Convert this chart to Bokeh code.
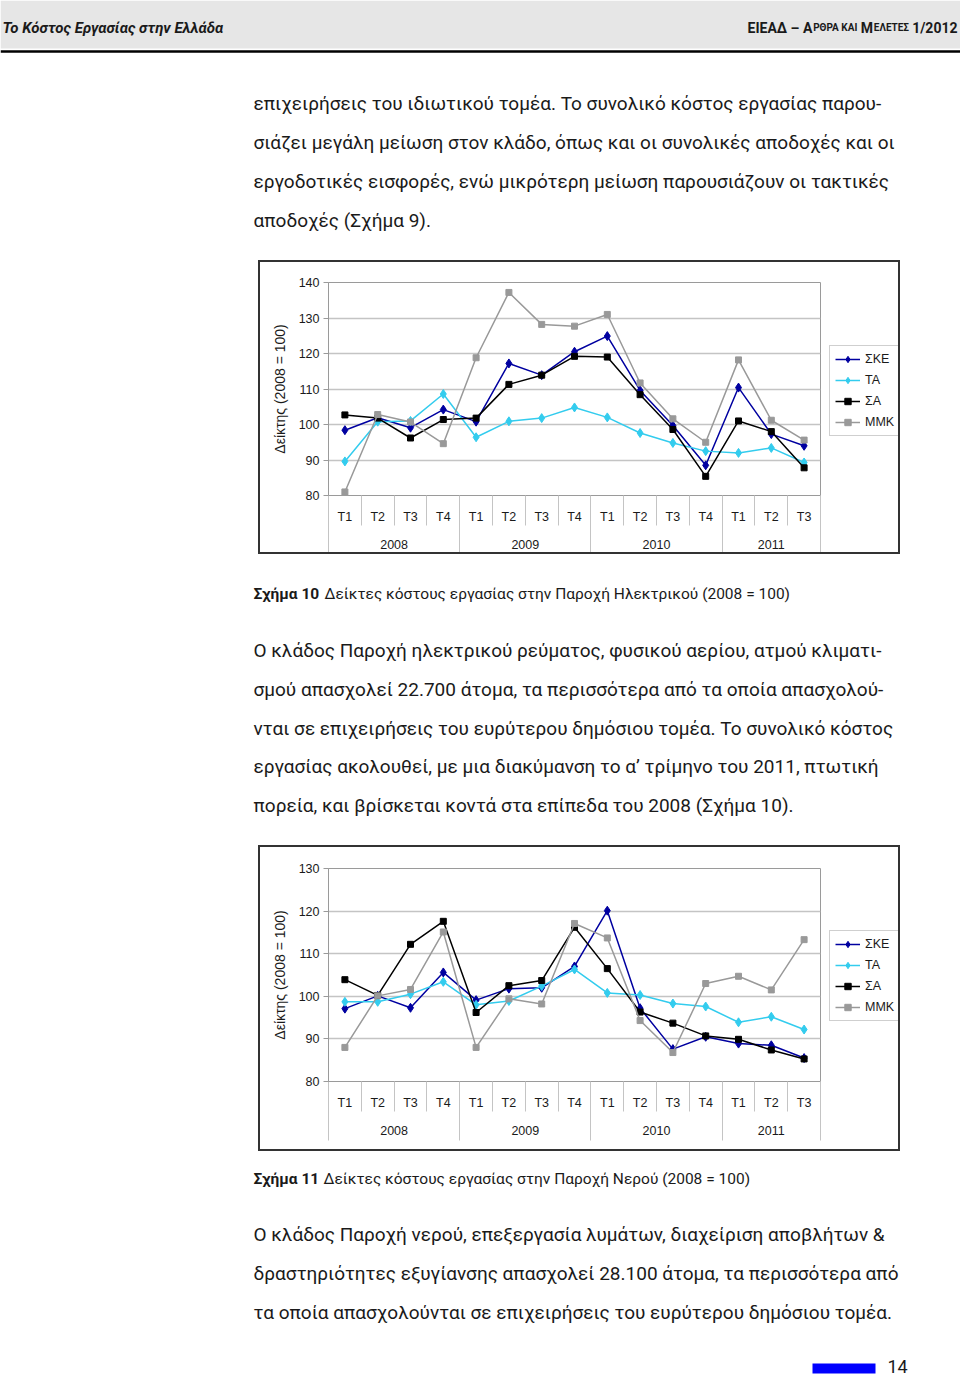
from bokeh.plotting import figure
from bokeh.models import Range1d, FixedTicker, LinearAxis, Legend, LegendItem, Spacer, ColumnDataSource
from bokeh.layouts import column, row
from bokeh.embed import file_html
from bokeh.resources import INLINE
from bokeh.core.properties import value

# ---------------- data ----------------
quarters = ["T1", "T2", "T3", "T4", "T1", "T2", "T3", "T4", "T1", "T2", "T3", "T4", "T1", "T2", "T3"]
years = ["2008", "2009", "2010", "2011"]
year_sizes = [4, 4, 4, 3]
series_names = ["ΣΚΕ", "ΤΑ", "ΣΑ", "ΜΜΚ"]

# Figure 10: electricity supply
elec_ske = [98.4, 101.9, 99.1, 104.2, 100.8, 117.2, 113.9, 120.5, 124.9, 109.6, 99.7, 88.5, 110.4, 97.3, 94.0]
elec_ta = [89.6, 100.8, 101.0, 108.6, 96.4, 100.9, 101.8, 104.8, 102.0, 97.6, 94.8, 92.5, 92.0, 93.4, 89.3]
elec_sa = [102.7, 101.8, 96.2, 101.4, 101.8, 111.3, 113.9, 119.2, 119.0, 108.4, 98.6, 85.4, 101.0, 98.0, 87.8]
elec_mmk = [81.0, 102.8, 100.7, 94.6, 118.8, 137.2, 128.2, 127.7, 131.0, 111.7, 101.6, 95.0, 118.2, 101.2, 95.6]

# Figure 11: water supply
water_ske = [97.1, 100.1, 97.3, 105.6, 99.1, 101.8, 102.0, 107.0, 120.1, 97.2, 87.6, 90.5, 88.9, 88.5, 85.5]
water_ta = [98.7, 98.7, 100.5, 103.4, 98.0, 98.9, 102.4, 106.3, 100.8, 100.3, 98.3, 97.6, 93.9, 95.2, 92.2]
water_sa = [103.9, 100.2, 112.2, 117.6, 96.2, 102.5, 103.7, 116.2, 106.5, 96.3, 93.7, 90.7, 89.9, 87.4, 85.3]
water_mmk = [88.0, 100.1, 101.6, 115.1, 88.0, 99.4, 98.2, 117.1, 113.7, 94.3, 86.8, 103.0, 104.7, 101.5, 113.3]

y_title = "Δείκτης (2008 = 100)"

# page text
header_left = "Το Κόστος Εργασίας στην Ελλάδα"
header_right = ["ΕΙΕΑΔ – Α", "ΡΘΡΑ ΚΑΙ", "Μ", "ΕΛΕΤΕΣ", "1/2012"]
para1 = [
    "επιχειρήσεις του ιδιωτικού τομέα. Το συνολικό κόστος εργασίας παρου-",
    "σιάζει μεγάλη μείωση στον κλάδο, όπως και οι συνολικές αποδοχές και οι",
    "εργοδοτικές εισφορές, ενώ μικρότερη μείωση παρουσιάζουν οι τακτικές",
    "αποδοχές (Σχήμα 9).",
]
caption1 = ("Σχήμα 10", "Δείκτες κόστους εργασίας στην Παροχή Ηλεκτρικού (2008 = 100)")
para2 = [
    "Ο κλάδος Παροχή ηλεκτρικού ρεύματος, φυσικού αερίου, ατμού κλιματι-",
    "σμού απασχολεί 22.700 άτομα, τα περισσότερα από τα οποία απασχολού-",
    "νται σε επιχειρήσεις του ευρύτερου δημόσιου τομέα. Το συνολικό κόστος",
    "εργασίας ακολουθεί, με μια διακύμανση το α’ τρίμηνο του 2011, πτωτική",
    "πορεία, και βρίσκεται κοντά στα επίπεδα του 2008 (Σχήμα 10).",
]
caption2 = ("Σχήμα 11", "Δείκτες κόστους εργασίας στην Παροχή Νερού (2008 = 100)")
para3 = [
    "Ο κλάδος Παροχή νερού, επεξεργασία λυμάτων, διαχείριση αποβλήτων &",
    "δραστηριότητες εξυγίανσης απασχολεί 28.100 άτομα, τα περισσότερα από",
    "τα οποία απασχολούνται σε επιχειρήσεις του ευρύτερου δημόσιου τομέα.",
]
page_number = "14"

BODY_FONT = "Roboto"
CHART_FONT = "Liberation Sans"
TEXT_COLOR = "#1a1a1a"
FRAME_COLOR = "#333333"
PAGE_W = 960
SERIES_STYLE = [("#0000a0", "diamond", 9), ("#33ccee", "diamond", 9), ("#000000", "square", 6), ("#999999", "square", 6)]


def text_fig(y0, y1):
    f = figure(width=PAGE_W, height=y1 - y0, x_range=Range1d(0, PAGE_W), y_range=Range1d(y1, y0),
               output_backend="svg", toolbar_location=None, min_border=0,
               x_axis_location=None, y_axis_location=None)
    f.outline_line_color = None
    f.grid.visible = False
    return f


def put_lines(f, lines, x, y_start, step, size="19px"):
    src = ColumnDataSource(dict(x=[x] * len(lines), y=[y_start + i * step for i in range(len(lines))], t=lines))
    f.text(x="x", y="y", text="t", source=src, text_font=value(BODY_FONT), text_font_size=value(size),
           text_baseline="middle", text_align="left", text_color=TEXT_COLOR)


def put_caption(f, cap, y, x_bold, x_rest):
    f.text(x=[x_bold], y=[y], text=[cap[0]], text_font=value(BODY_FONT), text_font_size=value("15.5px"),
           text_font_style="bold", text_baseline="middle", text_color=TEXT_COLOR)
    f.text(x=[x_rest], y=[y], text=[cap[1]], text_font=value(BODY_FONT), text_font_size=value("15.5px"),
           text_baseline="middle", text_color=TEXT_COLOR)


def add_series(p, xs, vals):
    rends = []
    for v, (col, mk, sz) in zip(vals, SERIES_STYLE):
        r1 = p.line(xs, v, line_color=col, line_width=1.5)
        r2 = p.scatter(xs, v, marker=mk, size=sz, fill_color=col, line_color=col)
        rends.append([r1, r2])
    return rends


def make_chart(vals, ymin, ymax, inner_h, top_b, bottom_b, legend_y):
    n = len(quarters)
    xs = list(range(1, n + 1))
    p = figure(width=561, height=inner_h, x_range=Range1d(0.5, n + 0.5), y_range=Range1d(ymin, ymax),
               output_backend="svg", toolbar_location=None,
               min_border_left=68, min_border_right=1, min_border_top=top_b, min_border_bottom=bottom_b)
    p.outline_line_color = "#9a9a9a"
    p.xgrid.visible = False
    yt = FixedTicker(ticks=list(range(ymin, ymax + 1, 10)), minor_ticks=[])
    p.yaxis.ticker = yt
    p.ygrid.ticker = yt
    p.ygrid.grid_line_color = "#c4c4c4"
    p.ygrid.grid_line_width = 1.5
    ya = p.yaxis[0]
    ya.axis_line_color = "#9a9a9a"
    ya.major_tick_line_color = "#9a9a9a"
    ya.major_tick_out = 5
    ya.major_tick_in = 0
    ya.major_label_standoff = 4
    ya.major_label_text_font = CHART_FONT
    ya.major_label_text_font_size = "12.5px"
    ya.major_label_text_color = TEXT_COLOR
    ya.axis_label = y_title
    ya.axis_label_text_font = CHART_FONT
    ya.axis_label_text_font_size = "14px"
    ya.axis_label_text_font_style = "normal"
    ya.axis_label_text_color = TEXT_COLOR
    ya.axis_label_standoff = 8

    bounds = [i + 0.5 for i in range(n + 1)]
    group_bounds = [0.5]
    centers = []
    acc = 0
    for s in year_sizes:
        centers.append(acc + (s + 1) / 2)
        acc += s
        group_bounds.append(acc + 0.5)

    # quarter labels + short separators
    xa = p.xaxis[0]
    xa.ticker = FixedTicker(ticks=xs, minor_ticks=bounds)
    xa.major_label_overrides = {x: q for x, q in zip(xs, quarters)}
    xa.major_tick_line_color = None
    xa.major_tick_out = 0
    xa.minor_tick_line_color = "#c4c4c4"
    xa.minor_tick_in = 0
    xa.minor_tick_out = 30
    xa.axis_line_color = "#9a9a9a"
    xa.major_label_standoff = -16
    xa.major_label_text_font = CHART_FONT
    xa.major_label_text_font_size = "12.5px"
    xa.major_label_text_color = TEXT_COLOR

    # year labels + long separators
    xb = LinearAxis(ticker=FixedTicker(ticks=centers, minor_ticks=group_bounds))
    xb.major_label_overrides = {c: y for c, y in zip(centers, years)}
    xb.major_tick_line_color = None
    xb.major_tick_out = 0
    xb.minor_tick_line_color = "#c4c4c4"
    xb.minor_tick_in = 6
    xb.minor_tick_out = 28
    xb.axis_line_color = None
    xb.major_label_standoff = -15
    xb.major_label_text_font = CHART_FONT
    xb.major_label_text_font_size = "12.5px"
    xb.major_label_text_color = TEXT_COLOR
    p.add_layout(xb, "below")

    add_series(p, xs, vals)

    # legend panel to the right of the plot area (same series, drawn off-view);
    # its frame is aligned with the chart's frame by the row layout
    lg = figure(width=77, height=inner_h, x_range=Range1d(0.5, n + 0.5), y_range=Range1d(1000, 1001),
                output_backend="svg", toolbar_location=None, min_border=0,
                min_border_top=top_b, min_border_bottom=bottom_b,
                x_axis_location=None, y_axis_location=None)
    lg.outline_line_color = None
    lg.grid.visible = False
    rends = add_series(lg, xs, vals)
    items = [LegendItem(label=nm, renderers=r) for nm, r in zip(series_names, rends)]
    leg = Legend(items=items, location=(8, legend_y))
    leg.border_line_color = "#a0a0a0"
    leg.background_fill_color = "white"
    leg.background_fill_alpha = 1.0
    leg.label_text_font = CHART_FONT
    leg.label_text_font_size = "12.5px"
    leg.label_text_color = TEXT_COLOR
    leg.glyph_width = 25
    leg.glyph_height = 16
    leg.label_height = 16
    leg.label_standoff = 5
    leg.spacing = 5
    leg.padding = 5
    leg.margin = 0
    lg.add_layout(leg)

    bar = {"background-color": FRAME_COLOR}
    block = column(
        Spacer(width=642, height=2, styles=bar),
        row(Spacer(width=2, height=inner_h, styles=bar), p, lg, Spacer(width=2, height=inner_h, styles=bar)),
        Spacer(width=642, height=2, styles=bar),
    )
    return row(Spacer(width=258, height=inner_h + 4), block, Spacer(width=PAGE_W - 258 - 642, height=inner_h + 4))


# ---------------- top text ----------------
top = text_fig(0, 260)
top.quad(left=[0], right=[PAGE_W], top=[0], bottom=[48], fill_color="#e6e6e6", line_color=None)
top.segment(x0=[0], y0=[51], x1=[PAGE_W], y1=[51], line_color="black", line_width=2.5)
top.text(x=[2], y=[27], text=[header_left], text_font=value(BODY_FONT), text_font_size=value("15px"),
         text_font_style="bold italic", text_baseline="middle", text_color=TEXT_COLOR)
hdr_x = [811.8, 856.8, 872.5, 908.5, 957]
hdr_s = ["14px", "10px", "14px", "10px", "14px"]
for hx, ht, hs in zip(hdr_x, header_right, hdr_s):
    top.text(x=[hx], y=[27], text=[ht], text_font=value(BODY_FONT), text_font_size=value(hs),
             text_font_style="bold", text_baseline="middle", text_align="right", text_color=TEXT_COLOR)
put_lines(top, para1, 253, 103, 39)

chart1 = make_chart([elec_ske, elec_ta, elec_sa, elec_mmk], 80, 140, 290, 20, 57, 59)

mid = text_fig(554, 845)
put_caption(mid, caption1, 593, 253, 324)
put_lines(mid, para2, 253, 650, 38.8)

chart2 = make_chart([water_ske, water_ta, water_sa, water_mmk], 80, 130, 302, 21, 68, 60)

bot = text_fig(1151, 1377)
put_caption(bot, caption2, 1178, 253, 323)
put_lines(bot, para3, 253, 1234, 39)
bot.quad(left=[812], right=[875], top=[1363], bottom=[1373], fill_color="#0000ff", line_color=None)
bot.text(x=[887], y=[1366], text=[page_number], text_font=value(BODY_FONT), text_font_size=value("18px"),
         text_baseline="middle", text_color=TEXT_COLOR)

layout = column(top, chart1, mid, chart2, bot)

open("out.html", "w").write(file_html(layout, INLINE))
